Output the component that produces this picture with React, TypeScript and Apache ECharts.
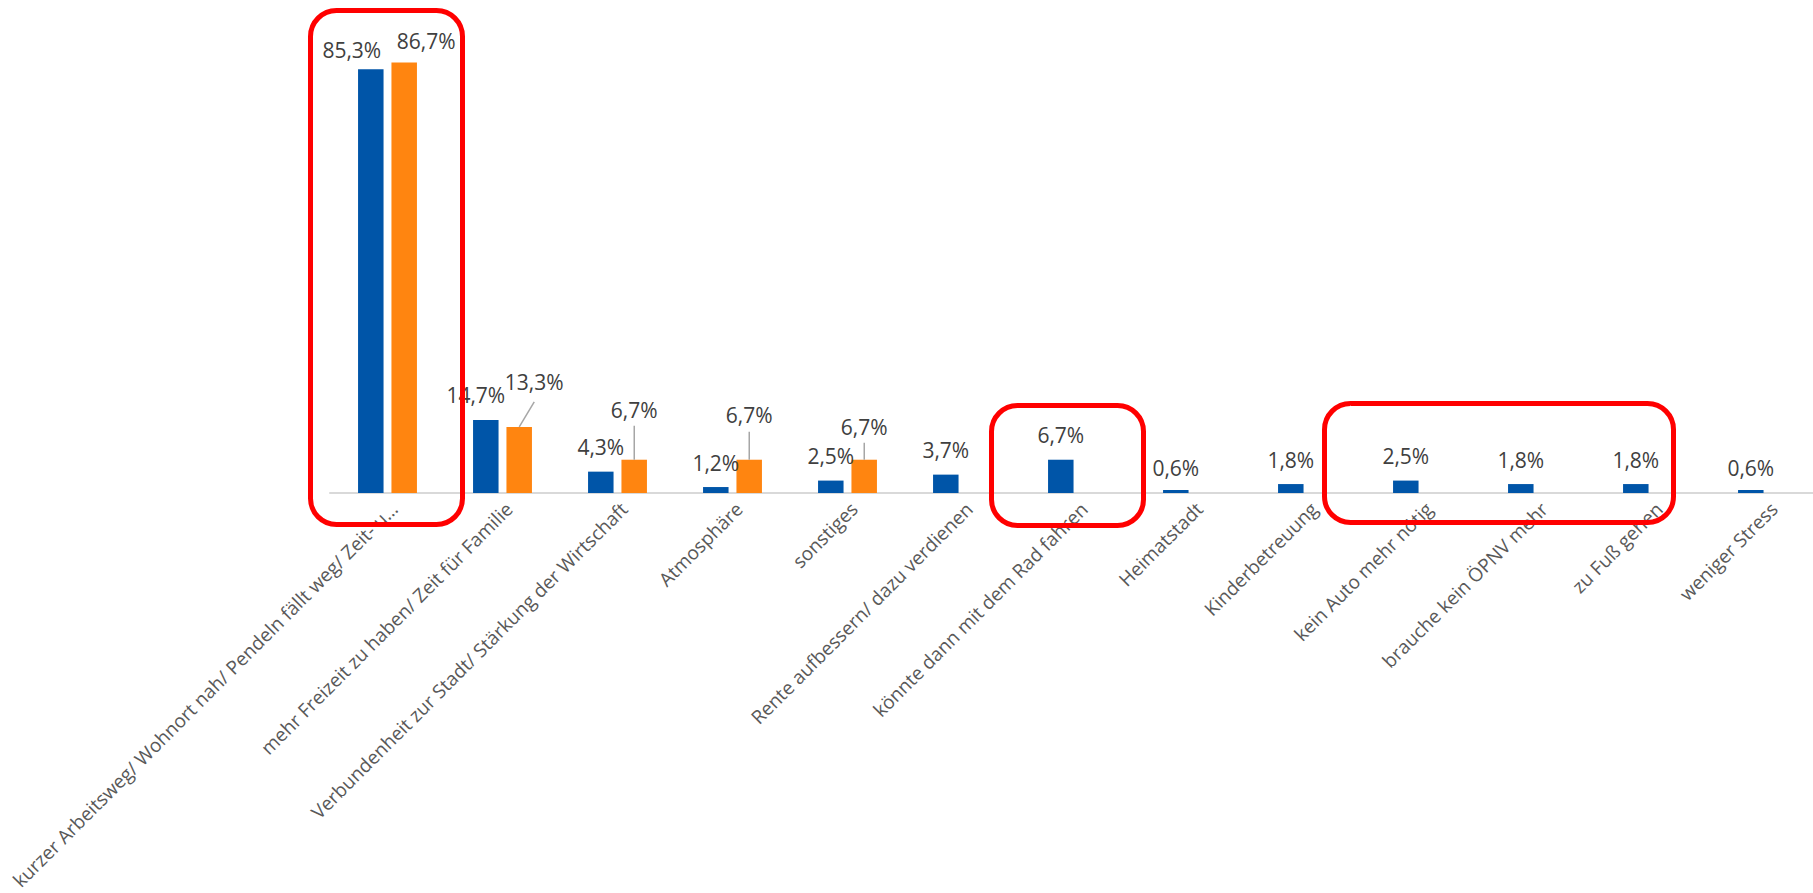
import React, { useEffect, useRef } from "react";
import * as echarts from "echarts";

const categories = [
  "kurzer Arbeitsweg/ Wohnort nah/ Pendeln fällt weg/ Zeit- u…",
  "mehr Freizeit zu haben/ Zeit für Familie",
  "Verbundenheit zur Stadt/ Stärkung der Wirtschaft",
  "Atmosphäre",
  "sonstiges",
  "Rente aufbessern/ dazu verdienen",
  "könnte dann mit dem Rad fahren",
  "Heimatstadt",
  "Kinderbetreuung",
  "kein Auto mehr nötig",
  "brauche kein ÖPNV mehr",
  "zu Fuß gehen",
  "weniger Stress",
];

const blueValues = [85.3, 14.7, 4.3, 1.2, 2.5, 3.7, 6.7, 0.6, 1.8, 2.5, 1.8, 1.8, 0.6];
const orangeValues: (number | null)[] = [86.7, 13.3, 6.7, 6.7, 6.7, null, null, null, null, null, null, null, null];

// label nudges (pixels) — layout only
const blueLabelShift = [[-19, 5], [-10, 0], [0, 0], [0, 0], [0, 0], [0, 0], [0, 0], [0, 2], [0, 0], [0, 0], [0, 0], [0, 0], [0, 2]];
const orangeLabelShift = [[22, 3], [15, -20], [0, -25], [0, -20], [0, -8]];
// leader line end relative to bar top centre (pixels) — layout only
const orangeLeaderEnd: (number[] | null)[] = [null, [15, -25], [0, -34], [0, -28], [0, -17]];

const BAR_W = 25.5;
const ORANGE_OFFSET = 16.75; // centre of orange bar relative to category centre

const fmt = (p: any) => (p.value == null ? "" : Number(p.value).toFixed(1).replace(".", ",") + "%");

export default function App() {
  const ref = useRef<HTMLDivElement>(null);
  useEffect(() => {
    if (!ref.current) return;
    const chart = echarts.init(ref.current, null, { renderer: "svg" });
    const labelBase = {
      show: true,
      position: "top",
      distance: 14,
      fontSize: 21,
      color: "#404040",
      fontFamily: "Open Sans",
      formatter: fmt,
    };
    const frames = [
      { type: "rect", z: 100, shape: { x: 310.5, y: 10.5, width: 152, height: 514, r: 26 }, style: { fill: "none", stroke: "#FF0000", lineWidth: 5 } },
      { type: "rect", z: 100, shape: { x: 991.5, y: 405.5, width: 152, height: 120, r: 26 }, style: { fill: "none", stroke: "#FF0000", lineWidth: 5 } },
      { type: "rect", z: 100, shape: { x: 1324.5, y: 403.5, width: 349, height: 119, r: 26 }, style: { fill: "none", stroke: "#FF0000", lineWidth: 5 } },
    ];
    chart.setOption({
      animation: false,
      backgroundColor: "#ffffff",
      grid: { left: 330, width: 1495, top: 46, height: 447, containLabel: false, outerBoundsMode: "none" },
      xAxis: {
        type: "category",
        data: categories,
        axisLine: { show: true, lineStyle: { color: "#D9D9D9", width: 2 } },
        axisTick: { show: false },
        axisLabel: {
          interval: 0,
          rotate: 45,
          margin: 6,
          verticalAlign: "top",
          fontSize: 19,
          color: "#595959",
          fontFamily: "Open Sans",
        },
      },
      yAxis: {
        type: "value",
        min: 0,
        max: 90,
        show: false,
        splitLine: { show: false },
      },
      series: [
        {
          type: "bar",
          data: blueValues,
          barWidth: BAR_W,
          barGap: "31%",
          itemStyle: { color: "#0055A8" },
          label: labelBase,
          labelLayout: (p: any) => ({
            dx: blueLabelShift[p.dataIndex][0],
            dy: blueLabelShift[p.dataIndex][1],
          }),
        },
        {
          type: "bar",
          data: orangeValues,
          barWidth: BAR_W,
          itemStyle: { color: "#FF8510" },
          label: labelBase,
          labelLayout: (p: any) => {
            const s = orangeLabelShift[p.dataIndex] || [0, 0];
            return { dx: s[0], dy: s[1] };
          },
        },
      ],
      graphic: frames,
    });
    // leader lines from orange bar tops, positioned through the chart's own scales
    const leaders: any[] = [];
    orangeValues.forEach((v, i) => {
      const end = orangeLeaderEnd[i];
      if (v == null || !end) return;
      const p = chart.convertToPixel({ gridIndex: 0 }, [i, v]) as number[];
      const x = p[0] + ORANGE_OFFSET;
      const y = p[1];
      leaders.push({
        type: "line",
        z: 50,
        shape: { x1: x, y1: y, x2: x + end[0], y2: y + end[1] },
        style: { stroke: "#A6A6A6", lineWidth: 1.5 },
      });
    });
    chart.setOption({ graphic: [...frames, ...leaders] });
    return () => chart.dispose();
  }, []);
  return (
    <div style={{ position: "fixed", left: 0, top: 0, width: 1813, height: 893, overflow: "hidden", background: "#fff" }}>
      <div ref={ref} style={{ width: 1826, height: 893 }} />
    </div>
  );
}
